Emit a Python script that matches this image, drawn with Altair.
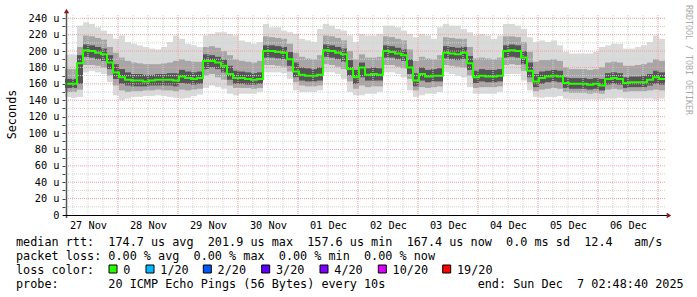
import altair as alt
import pandas as pd

# ---- median RTT (microseconds), one value per 2.4 h bin ----
MEDIAN = [160,160,185,201,200,198,196,186,174,168,
          165,164,164,163,164,165,165,165,164,169,
          167,166,167,188,188,186,182,172,167,167,
          166,165,166,200,200,199,198,190,175,171,
          170,170,171,201,200,198,196,178,168,180,
          171,172,171,200,199,197,195,180,164,172,
          169,170,170,198,197,196,198,185,168,170,
          169,169,170,200,201,200,192,176,163,167,
          169,170,169,161,160,160,160,159,160,158,
          166,167,166,161,162,162,162,165,168,166]

SMOKE_MAX = [196,196,231,235,233,229,225,221,215,219,
             211,209,207,205,203,202,205,211,219,215,
             209,207,205,219,221,223,223,221,219,213,
             211,209,211,233,229,229,225,223,221,215,
             213,211,227,233,231,227,225,219,211,221,
             219,219,221,231,231,229,225,221,217,221,
             219,215,229,233,231,231,227,223,219,221,
             219,215,219,233,233,231,227,217,211,213,
             211,213,207,199,197,197,197,197,199,205,
             207,209,209,203,203,205,207,211,219,215]

SMOKE_MIN = [144,143,144,174,176,174,172,162,146,140,
             142,144,144,145,145,146,145,144,143,142,
             143,145,147,155,158,156,154,148,146,148,
             148,148,150,174,174,174,173,166,152,150,
             150,150,152,174,174,172,166,150,146,146,
             148,148,150,174,174,172,168,152,144,146,
             148,148,150,174,172,170,168,156,148,148,
             148,148,150,172,172,172,164,152,144,143,
             144,144,145,142,141,141,141,141,141,141,
             142,142,143,142,142,142,142,142,141,142]

MID_HI = [178,178,205,219,218,216,214,205,198,192,
          188,186,185,184,184,184,185,186,188,190,
          188,187,187,205,206,204,200,195,190,188,
          187,186,188,218,217,216,215,209,198,193,
          191,190,195,219,218,216,213,200,190,196,
          192,192,193,218,217,215,213,202,188,193,
          191,190,195,217,216,215,215,205,191,192,
          191,190,192,218,218,217,211,199,187,189,
          189,190,188,180,178,178,178,177,178,180,
          186,187,186,182,182,183,184,186,190,188]

MID_LO = [150,150,153,183,183,182,180,170,158,152,
          150,151,151,152,152,153,152,152,151,153,
          152,153,154,170,172,168,165,158,155,155,
          155,154,155,183,183,182,181,175,162,158,
          157,157,158,184,183,181,178,163,154,158,
          156,157,157,183,183,181,179,166,152,156,
          155,156,157,183,182,181,180,170,155,156,
          156,156,157,183,184,183,176,162,151,153,
          154,155,154,150,149,149,149,148,149,148,
          153,154,153,150,151,151,151,152,153,152]

CORE_HI = [166,166,195,208,207,205,203,195,184,178,
           174,172,172,171,171,172,172,173,173,177,
           175,174,175,196,195,193,190,182,176,175,
           174,173,174,207,207,206,205,199,186,180,
           179,178,180,208,207,205,203,189,177,186,
           179,180,179,207,206,204,202,190,173,180,
           177,178,179,206,205,204,205,194,176,178,
           177,177,178,207,208,207,200,186,172,175,
           176,177,176,168,167,167,167,166,167,166,
           173,174,173,168,169,169,170,172,176,174]

CORE_LO = [155,155,160,193,192,190,188,178,166,160,
           158,157,157,157,158,158,158,158,157,161,
           160,159,160,178,180,178,174,165,160,160,
           159,159,160,192,192,191,190,182,168,164,
           163,163,164,193,192,190,187,170,160,168,
           164,164,164,192,192,190,188,172,157,164,
           162,163,163,191,190,189,190,177,161,163,
           162,162,163,192,193,192,184,168,156,160,
           162,163,162,155,154,154,154,153,154,152,
           159,160,159,155,156,156,156,158,160,159]

Y_TICKS = list(range(0, 241, 10))
Y_MAJOR = list(range(20, 241, 20))
Y_MINOR = list(range(10, 240, 20))

LOSS_LABELS = ["0", "1/20", "2/20", "3/20", "4/20", "10/20", "19/20"]
LOSS_COLORS = ["#26ff00", "#00b8ff", "#0059ff", "#5e00ff", "#7e00ff", "#dd00ff", "#ff0000"]

LINE1 = "median rtt:  174.7 us avg  201.9 us max  157.6 us min  167.4 us now  0.0 ms sd  12.4   am/s"
LINE2 = "packet loss: 0.00 % avg  0.00 % max  0.00 % min  0.00 % now"
LINE3 = "loss color:"
LINE4 = "probe:       20 ICMP Echo Pings (56 Bytes) every 10s             end: Sun Dec  7 02:48:40 2025"
CREDIT = "RRDTOOL / TOBI OETIKER"

START = pd.Timestamp("2025-11-27 02:48:40", tz="UTC")
END = pd.Timestamp("2025-12-07 02:48:40", tz="UTC")
STEP = pd.Timedelta(minutes=144)
n = len(MEDIAN)
t0 = [START + STEP * i for i in range(n)]
t1 = [START + STEP * (i + 1) for i in range(n)]

df = pd.DataFrame({"t": t0, "t2": t1, "med": MEDIAN, "mx": SMOKE_MAX, "mn": SMOKE_MIN,
                   "mh": MID_HI, "ml": MID_LO, "ch": CORE_HI, "cl": CORE_LO})
med_df = pd.DataFrame({"t": t0 + [END], "med": MEDIAN + [MEDIAN[-1]]})

six_h = pd.date_range("2025-11-27 06:00", "2025-12-07 00:00", freq="6h", tz="UTC")
v_minor = pd.DataFrame({"t": [t for t in six_h if t.hour != 0]})
v_major = pd.DataFrame({"t": [t for t in six_h if t.hour == 0]})
noons = pd.date_range("2025-11-27 12:00", periods=10, freq="D", tz="UTC")
noon_ms = [int(t.value // 10**6) for t in noons]

MONO = "DejaVu Sans Mono"
xscale = alt.Scale(type="utc", nice=False, domain=[
    alt.DateTime(year=2025, month=11, date=27, hours=2, minutes=48, seconds=40, utc=True),
    alt.DateTime(year=2025, month=12, date=7, hours=2, minutes=48, seconds=40, utc=True)])
yscale = alt.Scale(domain=[0, 244], nice=False, zero=False)

x_axis = alt.Axis(values=noon_ms, labelExpr="utcFormat(datum.value, '%d %b')", tickSize=0,
                  domain=False, grid=False, labelPadding=5, labelBaseline="top",
                  labelFont=MONO, labelFontSize=10.3, labelColor="#000", labelFlush=False,
                  labelOverlap=False, title=None)
y_axis = alt.Axis(values=Y_TICKS,
                  labelExpr="datum.value % 20 == 0 ? (datum.value == 0 ? '0' : datum.value + ' u') : ''",
                  domain=False, grid=False, tickSize=3, tickColor="#444", labelPadding=3,
                  labelFont=MONO, labelFontSize=10.3, labelColor="#000", labelOverlap=False,
                  labelFlush=False,
                  title="Seconds", titleFont=MONO, titleFontSize=11.8, titleFontWeight="normal",
                  titleColor="#000", titleX=-54, titleY=99, titleAngle=270, titleAlign="center",
                  titleBaseline="middle")

def X(field):
    return alt.X(field, scale=xscale, axis=x_axis)

def Y(field):
    return alt.Y(field, scale=yscale, axis=y_axis)

base = alt.Chart(df)
outer = base.mark_rect(color="#dadada", strokeWidth=0).encode(
    x=X("t:T"), x2="t2:T", y=Y("mn:Q"), y2="mx:Q")
mid = base.mark_rect(color="#a6a6a6", strokeWidth=0).encode(
    x=X("t:T"), x2="t2:T", y=Y("ml:Q"), y2="mh:Q")
core = base.mark_rect(color="#555555", strokeWidth=0).encode(
    x=X("t:T"), x2="t2:T", y=Y("cl:Q"), y2="ch:Q")

grid_minor_c = "#d2d2d2"
grid_major_c = "#eca0a0"
hminor = alt.Chart(pd.DataFrame({"v": Y_MINOR})).mark_rule(color=grid_minor_c, strokeDash=[1, 1], strokeWidth=1).encode(
    y=Y("v:Q"))
hmajor = alt.Chart(pd.DataFrame({"v": Y_MAJOR})).mark_rule(color=grid_major_c, strokeDash=[1, 1], strokeWidth=1).encode(
    y=Y("v:Q"))
vminor = alt.Chart(v_minor).mark_rule(color=grid_minor_c, strokeDash=[1, 1], strokeWidth=1).encode(
    x=X("t:T"))
vmajor = alt.Chart(v_major).mark_rule(color=grid_major_c, strokeDash=[1, 1], strokeWidth=1).encode(
    x=X("t:T"))

median = alt.Chart(med_df).mark_line(color="#26ff00", strokeWidth=2, interpolate="step-after").encode(
    x=X("t:T"), y=Y("med:Q"))

one = pd.DataFrame({"k": [0]})
yaxis_line = alt.Chart(one).mark_rule(color="#555", strokeWidth=1.5).encode(
    x=alt.value(1.5), y=alt.value(203), y2=alt.value(-3))
xaxis_line = alt.Chart(one).mark_rule(color="#000", strokeWidth=1.2).encode(
    x=alt.value(-2), x2=alt.value(603), y=alt.value(200.5))
arrow_up = alt.Chart(one).mark_point(shape="triangle-up", filled=True, size=28, color="#8a1c1c", opacity=1).encode(
    x=alt.value(1.5), y=alt.value(-4))
arrow_right = alt.Chart(one).mark_point(shape="triangle-right", filled=True, size=28, color="#8a1c1c", opacity=1).encode(
    x=alt.value(604), y=alt.value(200.5))

def txt(s, x, y, size=11.8, color="#000", angle=0, align="left", baseline="alphabetic"):
    s = s.replace(" ", "\u00a0")
    return alt.Chart(one).mark_text(font=MONO, fontSize=size, color=color, angle=angle,
                                    align=align, baseline=baseline).encode(
        x=alt.value(x), y=alt.value(y), text=alt.value(s))

texts = [
    txt(LINE1, -49, 230.5),
    txt(LINE2, -49, 244.5),
    txt(LINE3, -49, 258.5),
    txt(LINE4, -49, 272.5),
    txt(CREDIT, 623, -10, size=8.3, color="#aaaaaa", angle=90, baseline="middle"),
]

BOX_X = [44, 81, 138.3, 196.7, 255, 313.3, 377.7]
boxes = []
for lab, col, bx in zip(LOSS_LABELS, LOSS_COLORS, BOX_X):
    boxes.append(alt.Chart(one).mark_rect(color=col, stroke="#000", strokeWidth=1).encode(
        x=alt.value(bx), x2=alt.value(bx + 8), y=alt.value(250), y2=alt.value(258)))
    boxes.append(txt(lab, bx + 14.3, 258.5))

chart = alt.layer(outer, mid, core, hminor, hmajor, vminor, vmajor, median,
                  yaxis_line, xaxis_line, arrow_up, arrow_right, *texts, *boxes).properties(
    width=600, height=200, autosize="none",
    padding={"left": 65, "top": 15, "right": 32, "bottom": 82},
    background="#ffffff",
).configure_view(stroke=None)

chart.save("out.html", embed_options={"renderer": "svg", "actions": False})
